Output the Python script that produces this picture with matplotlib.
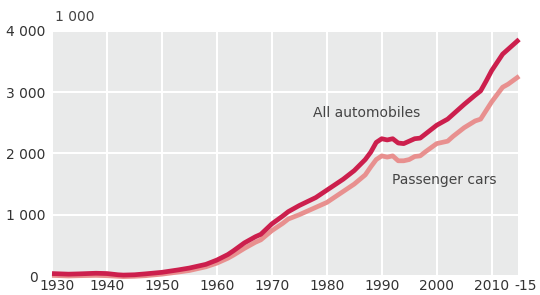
import matplotlib
matplotlib.use("Agg")
import matplotlib.pyplot as plt
import matplotlib.transforms as mtransforms

# thousands of vehicles
years_all = [1930, 1933, 1935, 1938, 1940, 1942, 1943, 1945, 1947, 1950, 1953, 1955, 1958, 1960,
             1962, 1963, 1965, 1967, 1968, 1970, 1972, 1973, 1975, 1978, 1980, 1983, 1985, 1987,
             1988, 1989, 1990, 1991, 1992, 1993, 1994, 1995, 1996, 1997, 1998, 2000, 2002, 2003,
             2005, 2007, 2008, 2009, 2010, 2012, 2013, 2015]
all_autos = [40, 30, 35, 45, 40, 20, 15, 20, 35, 60, 100, 130, 190, 260,
             350, 410, 540, 640, 680, 850, 980, 1050, 1150, 1280, 1400, 1580, 1720, 1900,
             2020, 2180, 2240, 2220, 2240, 2170, 2160, 2200, 2240, 2250, 2320, 2460, 2560, 2640,
             2800, 2950, 3020, 3180, 3350, 3620, 3700, 3860]

years_cars = [1930, 1933, 1935, 1938, 1940, 1942, 1943, 1945, 1947, 1950, 1953, 1955, 1958, 1960,
              1962, 1963, 1965, 1967, 1968, 1970, 1972, 1973, 1975, 1978, 1980, 1983, 1985, 1987,
              1988, 1989, 1990, 1991, 1992, 1993, 1994, 1995, 1996, 1997, 1998, 2000, 2002, 2003,
              2005, 2007, 2008, 2009, 2010, 2012, 2013, 2015]
pass_cars = [10, 0, 5, 10, 5, -5, -10, -5, 5, 30, 65, 90, 150, 210,
             290, 340, 450, 550, 590, 740, 860, 930, 1000, 1120, 1200, 1380, 1500, 1650,
             1780, 1900, 1960, 1940, 1960, 1880, 1880, 1900, 1950, 1960, 2030, 2160, 2200, 2280,
             2420, 2530, 2560, 2700, 2840, 3080, 3130, 3260]

xticks = [1930, 1940, 1950, 1960, 1970, 1980, 1990, 2000, 2010, 2015]
xlabels = ["1930", "1940", "1950", "1960", "1970", "1980", "1990", "2000", "2010", "-15"]
yticks = [0, 1000, 2000, 3000, 4000]
ylabels = ["0", "1 000", "2 000", "3 000", "4 000"]

fig = plt.figure(figsize=(5.4, 2.95), dpi=100)
ax = fig.add_axes([0.0963, 0.0644, 0.865, 0.831])
ax.set_facecolor("#e9eaea")

ax.plot(years_cars, pass_cars, color="#e8908f", linewidth=3.4, solid_capstyle="butt", clip_on=False)
ax.plot(years_all, all_autos, color="#cc1f4d", linewidth=3.4, solid_capstyle="butt", clip_on=False)

ax.set_xlim(1930, 2015)
ax.set_ylim(0, 4000)
ax.set_xticks(xticks)
ax.set_xticklabels(xlabels)
ax.set_yticks(yticks)
ax.set_yticklabels(ylabels)
ax.tick_params(length=0, labelsize=10, labelcolor="#333333", pad=5)
ax.tick_params(axis="x", pad=2)
ax.grid(True, color="white", linewidth=1.5)
ax.set_axisbelow(True)
for s in ax.spines.values():
    s.set_visible(False)

# nudge crowded labels at the corners
def shift(lbl, dx):
    lbl.set_transform(lbl.get_transform() + mtransforms.ScaledTranslation(dx / 72, 0, fig.dpi_scale_trans))

xl = ax.get_xticklabels()
shift(xl[0], 4)
shift(xl[-1], 5)
shift(ax.get_yticklabels()[0], -5)

fig.text(313 / 540, 1 - 113 / 295, "All automobiles", fontsize=10, color="#444444", va="center")
fig.text(392 / 540, 1 - 180 / 295, "Passenger cars", fontsize=10, color="#444444", va="center")
fig.text(55 / 540, 1 - 17 / 295, "1 000", fontsize=10, color="#444444", va="center")

fig.savefig("out.png", dpi=100)
